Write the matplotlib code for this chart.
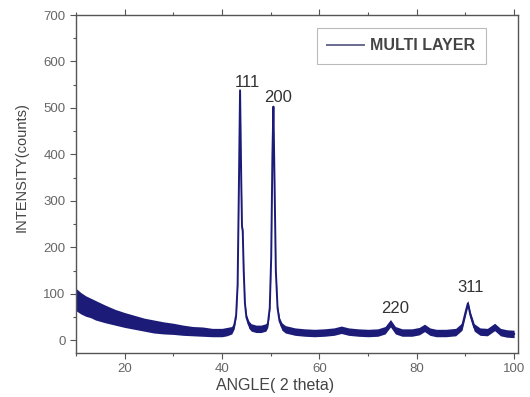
import numpy as np
import matplotlib
matplotlib.use("Agg")
import matplotlib.pyplot as plt
from matplotlib.ticker import MultipleLocator

plt.rcParams['font.family'] = ['Liberation Sans', 'DejaVu Sans']

# XRD pattern (centre of the noisy trace)
angle = [10, 11, 12, 13, 14, 15, 16, 18, 20, 22, 24, 26, 28, 30, 32, 34, 36, 38,
         40, 41, 42, 42.5, 42.9, 43.2, 43.45, 43.7, 43.95, 44.1, 44.25, 44.45, 44.7,
         45.0, 45.5, 46, 47, 48, 49, 49.4, 49.8, 50.1, 50.35, 50.55, 50.8, 51.05,
         51.4, 51.8, 52.3, 53, 55, 57, 59, 61, 63, 64.5, 66, 68, 70, 72, 73.5,
         74.6, 75.6, 77, 79, 80.5, 81.6, 82.7, 84, 86, 88, 89.3, 90.0, 90.5, 91.0,
         91.8, 93, 94.5, 96, 97.2, 98.5, 100]
intensity = [88, 80, 74, 70, 65, 61, 57, 50, 44, 39, 34, 30, 27, 25, 22, 20, 19, 17,
             17, 19, 22, 32, 55, 120, 320, 538, 340, 245, 235, 150, 80,
             50, 34, 28, 25, 25, 28, 35, 70, 180, 400, 503, 330, 150,
             70, 42, 30, 24, 19, 17, 16, 17, 19, 23, 19, 17, 16, 17, 22,
             37, 22, 17, 17, 20, 27, 19, 16, 16, 18, 30, 60, 80, 55,
             28, 19, 18, 29, 18, 15, 14]
# half width of the noise band around the trace
noise = [24, 23, 22, 21, 21, 20, 19, 17, 16, 15, 14, 14, 13, 12, 11, 10, 10, 9,
         9, 9, 8, 7, 5, 4, 4, 4, 4, 6, 6, 4, 5,
         6, 8, 8, 8, 8, 8, 7, 5, 4, 4, 4, 4, 4,
         5, 7, 8, 8, 8, 8, 8, 8, 8, 8, 8, 8, 8, 8, 8,
         8, 8, 8, 8, 8, 8, 8, 8, 8, 8, 8, 7, 6, 7,
         8, 8, 8, 8, 8, 8, 8]

peak_labels = ["111", "200", "220", "311"]
peak_x = [45.2, 51.5, 75.5, 91.1]
peak_y = [554, 522, 68, 113]

color = '#1c1c78'
grey = '#555555'

fig = plt.figure(figsize=(5.3, 3.97), dpi=100)
ax = fig.add_axes([0.1434, 0.1108, 0.834, 0.8514])

a = np.array(angle)
c = np.array(intensity)
n = np.array(noise)
ax.fill_between(a, c - n, c + n, color=color, linewidth=0)
ax.plot(a, c, color=color, lw=1.4, label='MULTI LAYER')

for lab, x, y in zip(peak_labels, peak_x, peak_y):
    ax.text(x, y, lab, ha='center', va='center', fontsize=12, color='#333333')

ax.set_xlim(10, 100.8)
ax.set_ylim(-27, 700)
ax.xaxis.set_major_locator(MultipleLocator(20))
ax.xaxis.set_minor_locator(MultipleLocator(10))
ax.yaxis.set_major_locator(MultipleLocator(100))
ax.yaxis.set_minor_locator(MultipleLocator(50))

ax.tick_params(which='both', direction='out', colors=grey, labelsize=9.5,
               top=True, right=False, labelcolor='#666666')
ax.tick_params(which='major', length=4, width=0.8)
ax.tick_params(which='minor', length=2, width=0.8)
for s in ax.spines.values():
    s.set_color(grey)
    s.set_linewidth(1.0)

ax.set_xlabel('ANGLE( 2 theta)', fontsize=11.5, color='#444444')
ax.set_ylabel('INTENSITY(counts)', fontsize=10.5, color='#444444')
ax.xaxis.set_label_coords(0.45, -0.075)
ax.yaxis.set_label_coords(-0.108, 0.55)

leg = ax.legend(loc='upper left', bbox_to_anchor=(0.545, 0.962), frameon=True,
                fancybox=False, edgecolor='#aaaaaa', handlelength=2.3,
                handletextpad=0.4, borderpad=0.65, borderaxespad=0,
                prop={'size': 11.5, 'weight': 'bold'})
leg.get_frame().set_linewidth(0.8)
for t in leg.get_texts():
    t.set_color('#444444')
leg.get_lines()[0].set_color('#6a6a90')

fig.savefig('out.png', dpi=100)
